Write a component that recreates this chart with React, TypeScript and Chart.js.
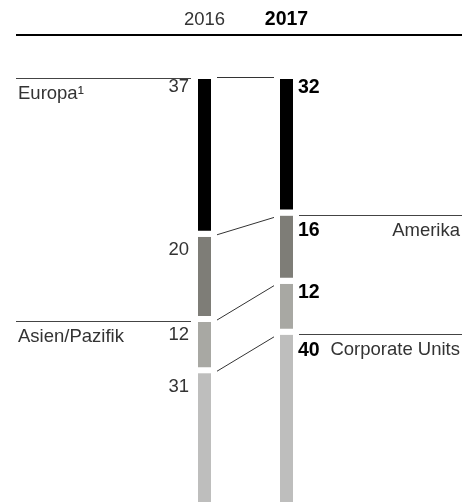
import React, { useEffect, useRef } from "react";
import { Chart, registerables } from "chart.js";

Chart.register(...registerables);

// ---- data ----
const years = ["2016", "2017"];
const regions = ["Europa¹", "Amerika", "Asien/Pazifik", "Corporate Units"];
const share2016 = [37, 20, 12, 31];
const share2017 = [32, 16, 12, 40];
const regionColors = ["#000000", "#7e7d77", "#a8a8a3", "#bebebd"];
const labelSides = ["left", "right", "left", "right"];

const FONT = "'Liberation Sans', Arial, Helvetica, sans-serif";

function cumulative(arr: number[]) {
  const out: number[] = [];
  let s = 0;
  for (const v of arr) {
    out.push(s);
    s += v;
  }
  return out;
}

export default function App() {
  const ref = useRef<HTMLCanvasElement>(null);

  useEffect(() => {
    const canvas = ref.current!;
    const cum16 = cumulative(share2016);
    const cum17 = cumulative(share2017);

    const overlay = {
      id: "overlay",
      afterDatasetsDraw(chart: any) {
        const ctx = chart.ctx as CanvasRenderingContext2D;
        const yS = chart.scales.y;
        const meta = chart.getDatasetMeta(0);
        const b1 = meta.data[0] as any;
        const b2 = meta.data[1] as any;
        const b1L = b1.x - b1.width / 2;
        const b1R = b1.x + b1.width / 2;
        const b2L = b2.x - b2.width / 2;
        const b2R = b2.x + b2.width / 2;
        const W = chart.width;

        ctx.save();
        // header
        ctx.textBaseline = "middle";
        ctx.textAlign = "center";
        ctx.fillStyle = "#333";
        ctx.font = `18.5px ${FONT}`;
        ctx.fillText(years[0], b1.x, 20);
        ctx.fillStyle = "#000";
        ctx.font = `bold 19.5px ${FONT}`;
        ctx.fillText(years[1], b2.x, 20);
        ctx.strokeStyle = "#000";
        ctx.lineWidth = 2;
        ctx.beginPath();
        ctx.moveTo(16, 35);
        ctx.lineTo(W - 5, 35);
        ctx.stroke();

        const off16 = [8, 13, 13, 14];
        const off17 = [8.5, 15.5, 9, 16];

        for (let i = 0; i < regions.length; i++) {
          const t16 = yS.getPixelForValue(cum16[i]);
          const t17 = yS.getPixelForValue(cum17[i]);

          // connector
          ctx.strokeStyle = "#333";
          ctx.lineWidth = 1;
          ctx.beginPath();
          ctx.moveTo(b1R + 6, i === 0 ? t16 - 1.5 : t16 - 2);
          ctx.lineTo(b2L - 6, i === 0 ? t17 - 1.5 : t17 + 2);
          ctx.stroke();

          // values
          ctx.fillStyle = "#333";
          ctx.font = `18.5px ${FONT}`;
          ctx.textAlign = "right";
          ctx.fillText(String(share2016[i]), b1L - 9, t16 + off16[i]);
          ctx.fillStyle = "#000";
          ctx.font = `bold 19.5px ${FONT}`;
          ctx.textAlign = "left";
          ctx.fillText(String(share2017[i]), b2R + 5, t17 + off17[i]);

          // region labels
          ctx.strokeStyle = "#444";
          ctx.lineWidth = 1;
          ctx.fillStyle = "#333";
          ctx.font = `18.5px ${FONT}`;
          if (labelSides[i] === "left") {
            const ly = Math.floor(t16) - 0.5;
            ctx.beginPath();
            ctx.moveTo(16, ly);
            ctx.lineTo(b1L - 7, ly);
            ctx.stroke();
            ctx.textAlign = "left";
            ctx.fillText(regions[i], 18, t16 + 15);
          } else {
            const ly = Math.floor(t17) + 0.5;
            ctx.beginPath();
            ctx.moveTo(b2R + 6, ly);
            ctx.lineTo(W - 5, ly);
            ctx.stroke();
            ctx.textAlign = "right";
            ctx.fillText(regions[i], W - 7, t17 + 15.5);
          }
        }
        ctx.restore();
      },
    };

    const lastIdx = regions.length - 1;
    const chart = new Chart(canvas, {
      type: "bar",
      data: {
        labels: years,
        datasets: regions.map((r, i) => ({
          label: r,
          data: [share2016[i], share2017[i]],
          backgroundColor: regionColors[i],
          borderColor: "#ffffff",
          borderWidth: { top: 0, right: 0, bottom: i === lastIdx ? 0 : 6, left: 0 },
          borderSkipped: false,
          inflateAmount: 0,
          barThickness: 13,
        })),
      },
      options: {
        responsive: false,
        animation: false,
        devicePixelRatio: 1,
        layout: { padding: { top: 79, bottom: 0, left: 163.5, right: 139.5 } },
        scales: {
          x: { type: "category", stacked: true, display: false, offset: true },
          y: { type: "linear", stacked: true, reverse: true, min: 0, max: 99.2, display: false },
        },
        plugins: {
          legend: { display: false },
          tooltip: { enabled: false },
          title: { display: false },
        },
      },
      plugins: [overlay],
    } as any);

    return () => chart.destroy();
  }, []);

  return (
    <div style={{ position: "fixed", left: 0, top: 0, width: 467, height: 502 }}>
      <canvas ref={ref} width={467} height={502} style={{ display: "block" }} />
    </div>
  );
}
